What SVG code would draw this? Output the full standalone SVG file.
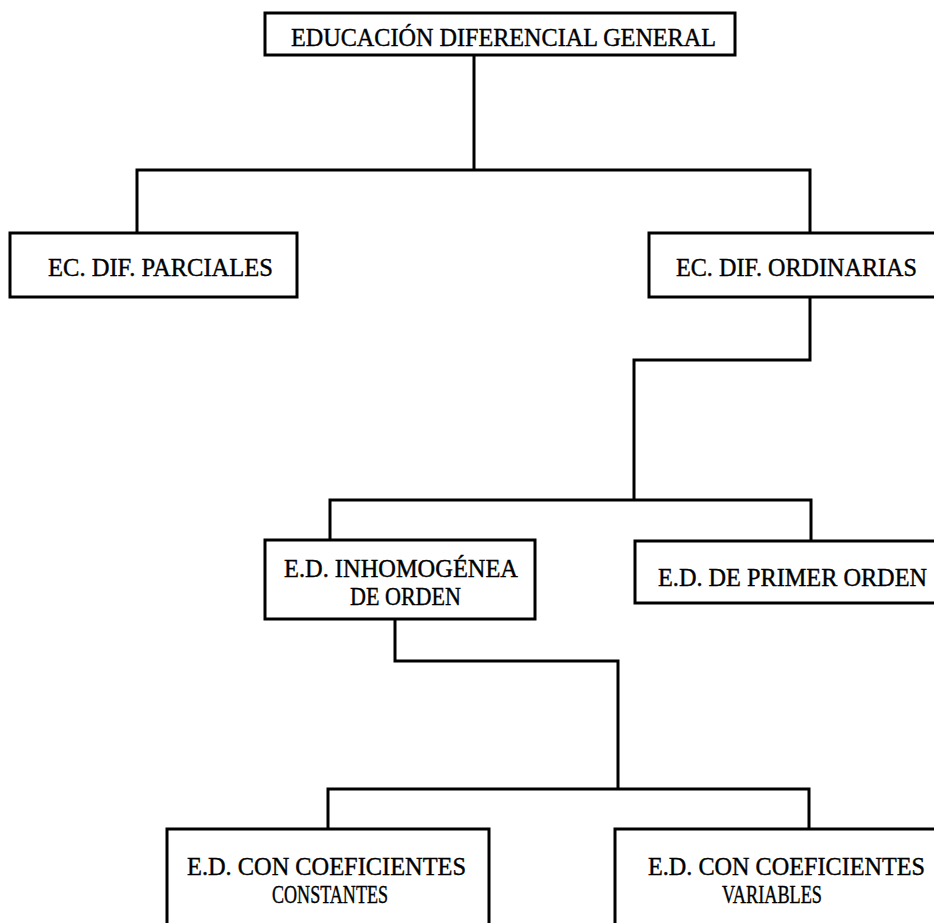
<svg xmlns="http://www.w3.org/2000/svg" width="934" height="923" viewBox="0 0 934 923">
<style>
.box{fill:#fff;stroke:#000;stroke-width:3}
.ln{fill:none;stroke:#000;stroke-width:3;stroke-linejoin:miter}
text{font-family:"Liberation Serif","DejaVu Serif",serif;font-size:25px;fill:#000;stroke:#000;stroke-width:0.4}
</style>
<rect width="934" height="923" fill="#fff"/>
<g id="connectors">
<path class="ln" d="M474 55 V170 M137 233 V170 H810 V233"/>
<path class="ln" d="M810 297 V360 H634 V500"/>
<path class="ln" d="M330 540 V500 H811 V541"/>
<path class="ln" d="M395 619 V661 H618 V789"/>
<path class="ln" d="M328 829 V789 H809 V829"/>
</g>
<g id="n-general">
<rect class="box" x="265" y="13" width="470" height="42"/>
<text x="291" y="46" textLength="425" lengthAdjust="spacingAndGlyphs">EDUCACIÓN DIFERENCIAL GENERAL</text>
</g>
<g id="n-parciales">
<rect class="box" x="10" y="233" width="287" height="64"/>
<text x="48" y="276" textLength="225" lengthAdjust="spacingAndGlyphs">EC. DIF. PARCIALES</text>
</g>
<g id="n-ordinarias">
<rect class="box" x="649" y="233" width="300" height="64"/>
<text x="676" y="276" textLength="241" lengthAdjust="spacingAndGlyphs">EC. DIF. ORDINARIAS</text>
</g>
<g id="n-inhomogenea">
<rect class="box" x="265" y="540" width="270" height="79"/>
<text x="284" y="577" textLength="234" lengthAdjust="spacingAndGlyphs">E.D. INHOMOGÉNEA</text>
<text x="350" y="605" textLength="111" lengthAdjust="spacingAndGlyphs">DE ORDEN</text>
</g>
<g id="n-primer">
<rect class="box" x="635" y="541" width="320" height="62"/>
<text x="658" y="586" textLength="269" lengthAdjust="spacingAndGlyphs">E.D. DE PRIMER ORDEN</text>
</g>
<g id="n-constantes">
<rect class="box" x="167" y="829" width="322" height="110"/>
<text x="187" y="875" textLength="279" lengthAdjust="spacingAndGlyphs">E.D. CON COEFICIENTES</text>
<text x="272" y="903" textLength="116" lengthAdjust="spacingAndGlyphs">CONSTANTES</text>
</g>
<g id="n-variables">
<rect class="box" x="615" y="829" width="340" height="110"/>
<text x="648" y="875" textLength="277" lengthAdjust="spacingAndGlyphs">E.D. CON COEFICIENTES</text>
<text x="722" y="903" textLength="100" lengthAdjust="spacingAndGlyphs">VARIABLES</text>
</g>
</svg>
